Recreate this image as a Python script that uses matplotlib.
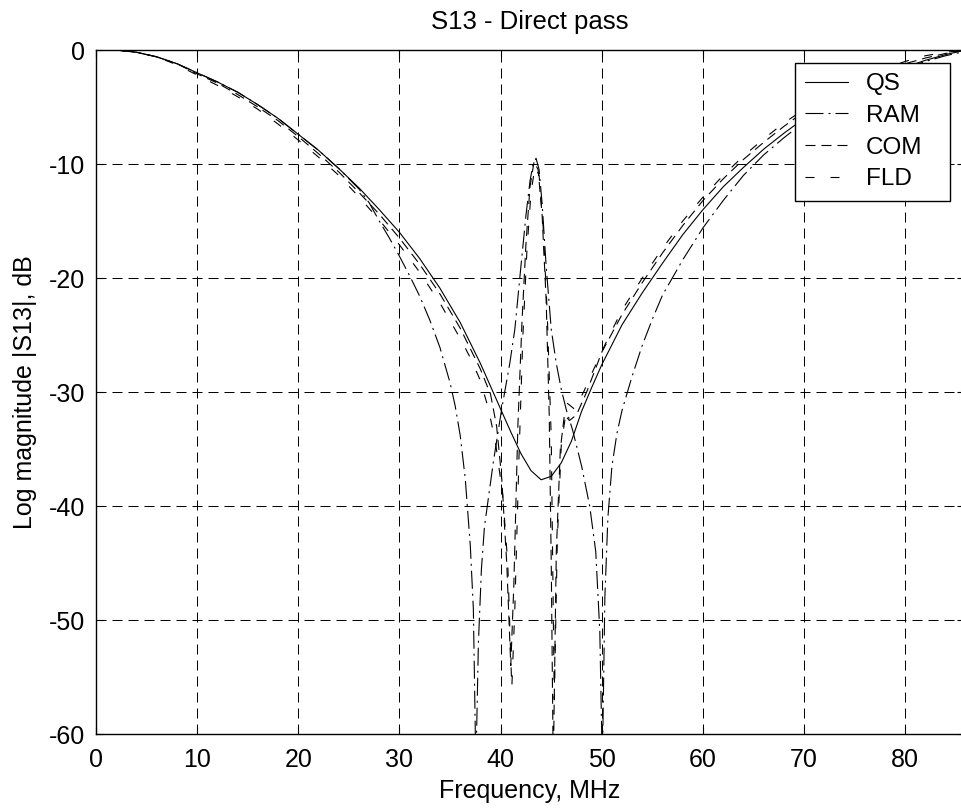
import matplotlib
matplotlib.use('Agg')
import matplotlib.pyplot as plt

plt.rcParams['font.family'] = ['Liberation Sans', 'DejaVu Sans']
plt.rcParams['lines.scale_dashes'] = False

# ---------------- data ----------------
title = 'S13 - Direct pass'
xlabel = 'Frequency, MHz'
ylabel = 'Log magnitude |S13|, dB'
series_names = ['QS', 'RAM', 'COM', 'FLD']
xticks = [0, 10, 20, 30, 40, 50, 60, 70, 80]
yticks = [-60, -50, -40, -30, -20, -10, 0]

f_qs = [2, 4, 6, 8, 10, 12, 14, 16, 18, 20, 22, 24, 26, 28, 30, 32, 34, 36, 38,
        40, 41, 42, 43, 44, 45, 46, 47, 48, 49, 50, 52, 54, 56, 58, 60, 62, 64,
        66, 68, 70, 72, 74, 76, 78, 80, 82, 84, 86]
db_qs = [0.0, -0.2, -0.6, -1.2, -2.0, -2.8, -3.7, -4.8, -6.0, -7.4, -8.8, -10.4,
         -12.1, -14.0, -16.0, -18.3, -20.9, -23.9, -27.5, -31.5, -33.5, -35.4,
         -36.9, -37.7, -37.4, -36.2, -34.3, -31.7, -29.6, -27.6, -24.1, -21.3,
         -18.7, -16.2, -14.0, -12.0, -10.3, -8.7, -7.3, -6.0, -4.8, -3.8, -2.9,
         -2.1, -1.5, -0.9, -0.4, 0.0]

f_ram = [2, 4, 6, 8, 10, 12, 14, 16, 18, 20, 22, 24, 26,
         27, 28, 29, 30, 31, 32, 33, 34,
         35, 35.5, 36, 36.5, 37, 37.3, 37.55, 37.8, 38.1, 38.4,
         39.3, 40.1, 40.9, 41.4, 42.0, 42.5, 42.9, 43.2, 43.5, 43.8,
         44.1, 44.5, 45.0, 45.5, 46.0, 46.5, 47.1, 48.0, 48.8, 49.4,
         49.8, 50.05, 50.3, 50.6, 51.0, 51.5, 52.0, 53, 54, 55, 56,
         58, 60, 62, 64, 66, 68, 70, 72, 74, 76, 78, 80, 82, 84, 86]
db_ram = [0.0, -0.2, -0.6, -1.2, -2.0, -2.8, -3.7, -4.8, -6.0, -7.4, -8.8, -10.4, -12.2,
          -13.4, -15.0, -16.5, -18.1, -19.8, -21.6, -23.7, -26.1,
          -29.2, -31.2, -33.8, -37.6, -43.5, -49.0, -63.0, -52.0, -45.5, -41.8,
          -36.0, -31.5, -27.5, -24.5, -19.0, -14.5, -11.5, -10.0, -9.5, -10.5,
          -13.5, -19.0, -24.5, -27.5, -29.8, -31.6, -33.3, -36.5, -40.0, -44.0,
          -51.0, -63.0, -48.0, -41.0, -36.5, -33.6, -31.6, -28.6, -25.9, -23.6, -21.5,
          -18.4, -15.6, -13.2, -11.0, -9.2, -7.7, -6.3, -5.1, -4.0, -3.1, -2.3,
          -1.6, -1.0, -0.5, -0.1]

f_com = [2, 4, 6, 8, 10, 12, 14, 16, 18, 20, 22, 24, 26, 28, 30, 32, 34, 36, 38,
         39, 39.6, 40.1, 40.6, 41.0, 41.3, 41.7, 42.1, 42.5, 42.9, 43.3, 43.7,
         44.1, 44.5, 44.8, 45.0, 45.2, 45.5, 45.9, 46.3, 46.8, 47.5, 48.5,
         50, 52, 54, 56, 58, 60, 62, 64, 66, 68, 70, 72, 74, 76, 78, 80, 82, 84, 86]
db_com = [0.0, -0.2, -0.6, -1.2, -2.1, -2.9, -3.9, -5.0, -6.2, -7.6, -9.1, -10.7,
          -12.5, -14.4, -16.5, -18.8, -21.4, -24.4, -28.0,
          -30.2, -33.0, -37.5, -45.0, -54.0, -47.0, -33.0, -24.0, -17.0, -12.0,
          -9.8, -10.5, -14.5, -22.0, -32.0, -45.0, -63.0, -44.0, -35.0, -32.0,
          -32.5, -32.0, -30.0,
          -26.5, -23.2, -20.4, -17.8, -15.4, -13.2, -11.3, -9.6, -8.1, -6.7, -5.4,
          -4.3, -3.3, -2.5, -1.8, -1.2, -0.7, -0.3, 0.0]

f_fld = [2, 4, 6, 8, 10, 12, 14, 16, 18, 20, 22, 24, 26, 28, 30, 32, 34, 36,
         37, 38, 38.8, 39.5, 40.2, 40.7, 41.1, 41.4, 41.8, 42.2, 42.6, 43.0, 43.4,
         43.8, 44.2, 44.6, 45.0, 45.3, 45.6, 46.0, 46.6, 47.3, 48.2, 49.2, 50.5,
         52, 54, 56, 58, 60, 62, 64, 66, 68, 70, 72, 74, 76, 78, 80, 82, 84, 86]
db_fld = [0.0, -0.2, -0.6, -1.3, -2.2, -3.1, -4.1, -5.2, -6.5, -7.9, -9.4, -11.0,
          -12.9, -14.9, -17.1, -19.5, -22.2, -25.3,
          -27.0, -29.0, -31.5, -34.5, -39.0, -45.0, -56.0, -49.0, -36.0, -25.0,
          -17.5, -12.5, -10.2, -11.0, -15.5, -23.0, -34.0, -57.0, -43.0, -34.5,
          -31.0, -31.5, -30.0, -28.0, -25.5,
          -22.8, -20.0, -17.4, -15.0, -12.9, -11.0, -9.3, -7.8, -6.4, -5.2, -4.1,
          -3.1, -2.3, -1.6, -1.0, -0.5, -0.2, 0.0]

# ---------------- styling ----------------
PX = 0.72  # points per pixel at dpi 100
LW = 0.8

fig = plt.figure(figsize=(9.61, 8.10), dpi=100)
fig.patch.set_facecolor('white')
ax = fig.add_axes([96 / 961, 76 / 810, 868 / 961, 684 / 810])

ax.plot(f_qs, db_qs, color='k', lw=LW, ls='-', label=series_names[0])
ax.plot(f_ram, db_ram, color='k', lw=LW, dashes=(18 * PX, 5 * PX, 2 * PX, 5 * PX),
        label=series_names[1])
ax.plot(f_com, db_com, color='k', lw=LW, dashes=(10 * PX, 6 * PX), label=series_names[2])
ax.plot(f_fld, db_fld, color='k', lw=LW, dashes=(9 * PX, 16 * PX), label=series_names[3])

ax.set_xlim(0, 85.8)
ax.set_ylim(-60, 0)
ax.set_xticks(xticks)
ax.set_yticks(yticks)
ax.set_xticklabels([str(v) for v in xticks])
ax.set_yticklabels([str(v) for v in yticks])

ax.grid(True, color='k', linewidth=0.72, linestyle=(0, (10 * PX, 6 * PX)))
ax.set_axisbelow(True)
ax.tick_params(direction='in', length=5, width=0.8, top=True, right=True,
               labelsize=18, colors='k')
ax.tick_params(axis='x', pad=10)
ax.tick_params(axis='y', pad=8)
for s in ax.spines.values():
    s.set_linewidth(1.0)
    s.set_color('k')

ax.set_title(title, fontsize=18.5, pad=15)
ax.set_xlabel(xlabel, fontsize=18, labelpad=5)
ax.set_ylabel(ylabel, fontsize=18, labelpad=8)

leg = ax.legend(loc='upper left',
                bbox_to_anchor=(795 / 961, 1 - 198 / 810, 155 / 961, 135 / 810),
                bbox_transform=fig.transFigure, mode='expand', fontsize=17.5,
                frameon=True, fancybox=False, edgecolor='k', framealpha=1,
                borderaxespad=0, handlelength=1.75, handletextpad=0.75,
                labelspacing=0.4, borderpad=0.42)
leg.get_frame().set_linewidth(1.0)

fig.savefig('out.png', dpi=100)
